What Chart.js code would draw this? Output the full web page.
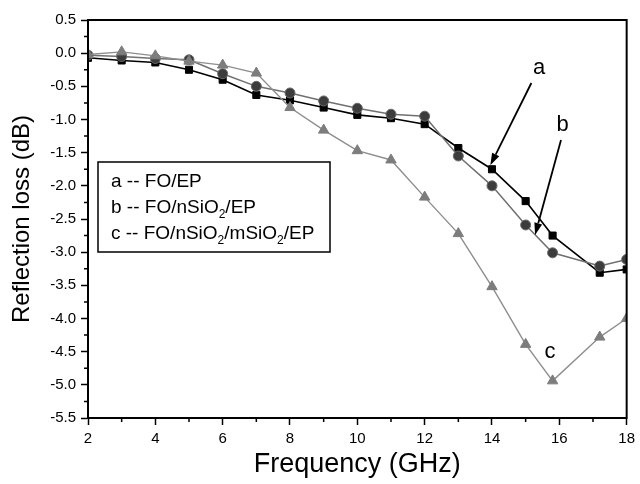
<!DOCTYPE html>
<html>
<head>
<meta charset="utf-8">
<script src="https://cdn.jsdelivr.net/npm/chart.js@4.4.0/dist/chart.umd.min.js"></script>
<style>
    html, body { margin: 0; padding: 0; background: #fff; }
    #wrap { width: 640px; height: 484px; position: relative; }
</style>
</head>
<body>
<div id="wrap"><canvas id="rlChart" width="640" height="484"></canvas></div>
<script>
// frequency points (GHz)
const freq = [2, 3, 4, 5, 6, 7, 8, 9, 10, 11, 12, 13, 14, 15, 15.8, 17.2, 18];

// reflection loss (dB) for each sample
const lossA = [-0.07, -0.11, -0.14, -0.25, -0.40, -0.63, -0.71, -0.82, -0.93, -0.98, -1.07, -1.43, -1.75, -2.23, -2.75, -3.31, -3.26];
const lossB = [-0.03, -0.05, -0.08, -0.10, -0.31, -0.50, -0.60, -0.72, -0.83, -0.92, -0.95, -1.55, -2.00, -2.59, -3.01, -3.21, -3.11];
const lossC = [-0.02, 0.02, -0.04, -0.12, -0.18, -0.30, -0.82, -1.16, -1.47, -1.61, -2.17, -2.72, -3.52, -4.39, -4.94, -4.28, -4.00];

// legend lines as [text, isSubscript] pieces
const legendRows = [
    [['a -- FO/EP', false]],
    [['b -- FO/nSiO', false], ['2', true], ['/EP', false]],
    [['c -- FO/nSiO', false], ['2', true], ['/mSiO', false], ['2', true], ['/EP', false]]
];

// curve tags with arrows (data units)
const tags = [
    { text: 'a', at: [15.4, -0.22], from: [15.17, -0.45], to: [13.95, -1.69] },
    { text: 'b', at: [16.1, -1.08], from: [16.05, -1.31], to: [15.28, -2.74] },
    { text: 'c', at: [15.72, -4.51] }
];

const FONT = '"Liberation Sans", Arial, Helvetica, sans-serif';

function pts(ys) {
    return freq.map((f, i) => ({ x: f, y: ys[i] }));
}

// frame, minor ticks, legend box, arrows
const decorPlugin = {
    id: 'decor',
    afterDraw(chart) {
        const ctx = chart.ctx;
        const a = chart.chartArea;
        const xs = chart.scales.x;
        const ys = chart.scales.y;
        ctx.save();

        // closed frame
        ctx.strokeStyle = '#000';
        ctx.lineWidth = 2;
        ctx.strokeRect(a.left, a.top, a.right - a.left, a.bottom - a.top);

        // minor ticks
        ctx.lineWidth = 1.5;
        ctx.beginPath();
        for (let v = 3; v < 18; v += 2) {
            const px = xs.getPixelForValue(v);
            ctx.moveTo(px, a.bottom);
            ctx.lineTo(px, a.bottom + 4);
        }
        for (let v = 0.25; v > -5.5; v -= 0.5) {
            const py = ys.getPixelForValue(v);
            ctx.moveTo(a.left, py);
            ctx.lineTo(a.left - 4, py);
        }
        ctx.stroke();

        // legend box
        const bx = a.left + 10, by = a.top + 142, bw = 232, bh = 90;
        ctx.lineWidth = 1.5;
        ctx.strokeRect(bx, by, bw, bh);
        ctx.fillStyle = '#000';
        ctx.textBaseline = 'alphabetic';
        ctx.textAlign = 'left';
        legendRows.forEach((row, i) => {
            let cx = bx + 13;
            const cy = by + 25 + i * 26;
            row.forEach(([txt, sub]) => {
                ctx.font = (sub ? '12px ' : '19px ') + FONT;
                ctx.fillText(txt, cx, sub ? cy + 5 : cy);
                cx += ctx.measureText(txt).width;
            });
        });

        // tags and arrows
        ctx.font = '22px ' + FONT;
        ctx.textAlign = 'center';
        ctx.textBaseline = 'middle';
        tags.forEach(t => {
            ctx.fillText(t.text, xs.getPixelForValue(t.at[0]), ys.getPixelForValue(t.at[1]));
            if (!t.from) return;
            const x0 = xs.getPixelForValue(t.from[0]), y0 = ys.getPixelForValue(t.from[1]);
            const x1 = xs.getPixelForValue(t.to[0]), y1 = ys.getPixelForValue(t.to[1]);
            const ang = Math.atan2(y1 - y0, x1 - x0);
            const hl = 12, hw = 4;
            ctx.lineWidth = 1.8;
            ctx.beginPath();
            ctx.moveTo(x0, y0);
            ctx.lineTo(x1 - hl * Math.cos(ang), y1 - hl * Math.sin(ang));
            ctx.stroke();
            ctx.beginPath();
            ctx.moveTo(x1, y1);
            ctx.lineTo(x1 - hl * Math.cos(ang) + hw * Math.sin(ang), y1 - hl * Math.sin(ang) - hw * Math.cos(ang));
            ctx.lineTo(x1 - hl * Math.cos(ang) - hw * Math.sin(ang), y1 - hl * Math.sin(ang) + hw * Math.cos(ang));
            ctx.closePath();
            ctx.fill();
        });
        ctx.restore();
    }
};

new Chart(document.getElementById('rlChart'), {
    type: 'line',
    data: {
        datasets: [
            {
                label: 'c',
                data: pts(lossC),
                borderColor: '#8e8e8e',
                borderWidth: 1.4,
                pointStyle: 'triangle',
                pointRadius: 6,
                pointBackgroundColor: '#7d7d7d',
                pointBorderColor: '#7d7d7d',
                pointBorderWidth: 1
            },
            {
                label: 'b',
                data: pts(lossB),
                borderColor: '#707070',
                borderWidth: 1.5,
                pointStyle: 'circle',
                pointRadius: 5,
                pointBackgroundColor: '#3c3c3c',
                pointBorderColor: '#6a6a6a',
                pointBorderWidth: 1
            },
            {
                label: 'a',
                data: pts(lossA),
                borderColor: '#000',
                borderWidth: 1.6,
                pointStyle: 'rect',
                pointRadius: 5,
                pointBackgroundColor: '#000',
                pointBorderColor: '#000',
                pointBorderWidth: 1
            }
        ]
    },
    options: {
        responsive: false,
        animation: false,
        layout: { padding: { top: 20, right: 11, bottom: 0, left: 0 } },
        plugins: {
            legend: { display: false },
            tooltip: { enabled: false }
        },
        scales: {
            x: {
                type: 'linear',
                min: 2,
                max: 18,
                afterFit: s => { s.height = 66; },
                ticks: {
                    stepSize: 2,
                    color: '#000',
                    padding: 5,
                    font: { family: FONT, size: 15 }
                },
                grid: { drawOnChartArea: false, color: '#000', tickLength: 7, tickWidth: 1.5 },
                border: { color: '#000', width: 2 },
                title: {
                    display: true,
                    text: 'Frequency (GHz)',
                    color: '#000',
                    font: { family: FONT, size: 27 },
                    padding: { top: 0, bottom: 3 }
                }
            },
            y: {
                min: -5.5,
                max: 0.5,
                afterFit: s => { s.width = 88; },
                ticks: {
                    stepSize: 0.5,
                    color: '#000',
                    padding: 5,
                    font: { family: FONT, size: 15 },
                    callback: v => v.toFixed(1)
                },
                grid: { drawOnChartArea: false, color: '#000', tickLength: 7, tickWidth: 1.5 },
                border: { color: '#000', width: 2 },
                title: {
                    display: true,
                    text: 'Reflection loss (dB)',
                    color: '#000',
                    font: { family: FONT, size: 24 },
                    padding: { top: 8, bottom: 0 }
                }
            }
        }
    },
    plugins: [decorPlugin]
});
</script>
</body>
</html>
